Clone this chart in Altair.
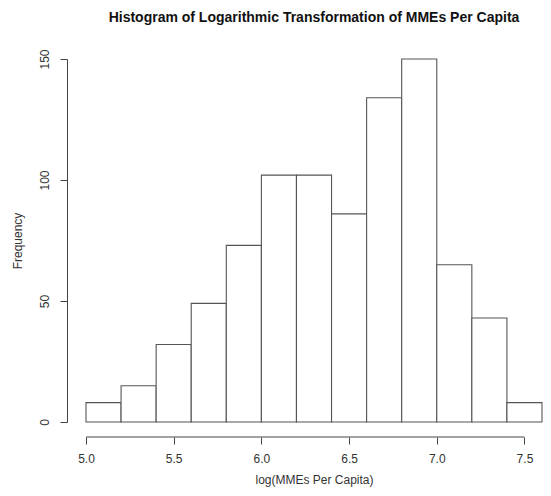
import altair as alt
import pandas as pd

bin_start = [5.0, 5.2, 5.4, 5.6, 5.8, 6.0, 6.2, 6.4, 6.6, 6.8, 7.0, 7.2, 7.4]
bin_end = [5.2, 5.4, 5.6, 5.8, 6.0, 6.2, 6.4, 6.6, 6.8, 7.0, 7.2, 7.4, 7.6]
counts = [8, 15, 32, 49, 73, 102, 102, 86, 134, 150, 65, 43, 8]
x_ticks = [5.0, 5.5, 6.0, 6.5, 7.0, 7.5]
y_ticks = [0, 50, 100, 150]

df = pd.DataFrame({"start": bin_start, "end": bin_end, "count": counts})
axis_df = pd.DataFrame({"a": [x_ticks[0]], "b": [x_ticks[-1]]})

FONT = "Liberation Sans"
TXT = "#333333"
LINE = "#444444"
W, H = 456, 363

xscale = alt.Scale(domain=[5.0, 7.6], nice=False, zero=False)
yscale = alt.Scale(domain=[0, 150], nice=False)

bars = alt.Chart(df).mark_bar(
    fill="white", stroke="#555555", strokeWidth=1.1
).encode(
    x=alt.X("start:Q", scale=xscale,
            axis=alt.Axis(values=x_ticks, format=".1f", domain=False, offset=15,
                          tickSize=7, tickColor=LINE, tickWidth=1,
                          labelFont=FONT, labelFontSize=12, labelColor=TXT,
                          labelPadding=9, labelFlush=False, grid=False,
                          title="log(MMEs Per Capita)", titleFont=FONT,
                          titleFontSize=12, titleFontWeight="normal",
                          titleColor=TXT, titlePadding=10)),
    x2="end:Q",
    y=alt.Y("count:Q", scale=yscale,
            axis=alt.Axis(values=y_ticks, domain=True, domainColor=LINE,
                          offset=19, tickSize=7, tickColor=LINE,
                          labelFont=FONT, labelFontSize=12, labelColor=TXT,
                          labelAngle=270, labelAlign="center",
                          labelBaseline="bottom", labelPadding=9,
                          labelFlush=False, grid=False,
                          title="Frequency", titleFont=FONT, titleFontSize=12,
                          titleFontWeight="normal", titleColor=TXT,
                          titlePadding=14)),
    y2=alt.datum(0),
)

xaxis_line = alt.Chart(axis_df).mark_rule(color=LINE, strokeWidth=1).encode(
    x=alt.X("a:Q", scale=xscale),
    x2="b:Q",
    y=alt.value(H + 15),
)

chart = alt.layer(bars, xaxis_line).properties(
    width=W,
    height=H,
    title=alt.TitleParams(
        "Histogram of Logarithmic Transformation of MMEs Per Capita",
        font=FONT, fontSize=14, fontWeight="bold", color="#111111",
        anchor="middle", offset=24,
    ),
    autosize=alt.AutoSizeParams(type="none"),
    padding={"left": 78, "top": 51, "right": 1, "bottom": 66},
).configure(
    background="white",
    view=alt.ViewConfig(strokeWidth=0, stroke="transparent"),
)

chart.save("out.html", embed_options={"renderer": "svg", "actions": False})
